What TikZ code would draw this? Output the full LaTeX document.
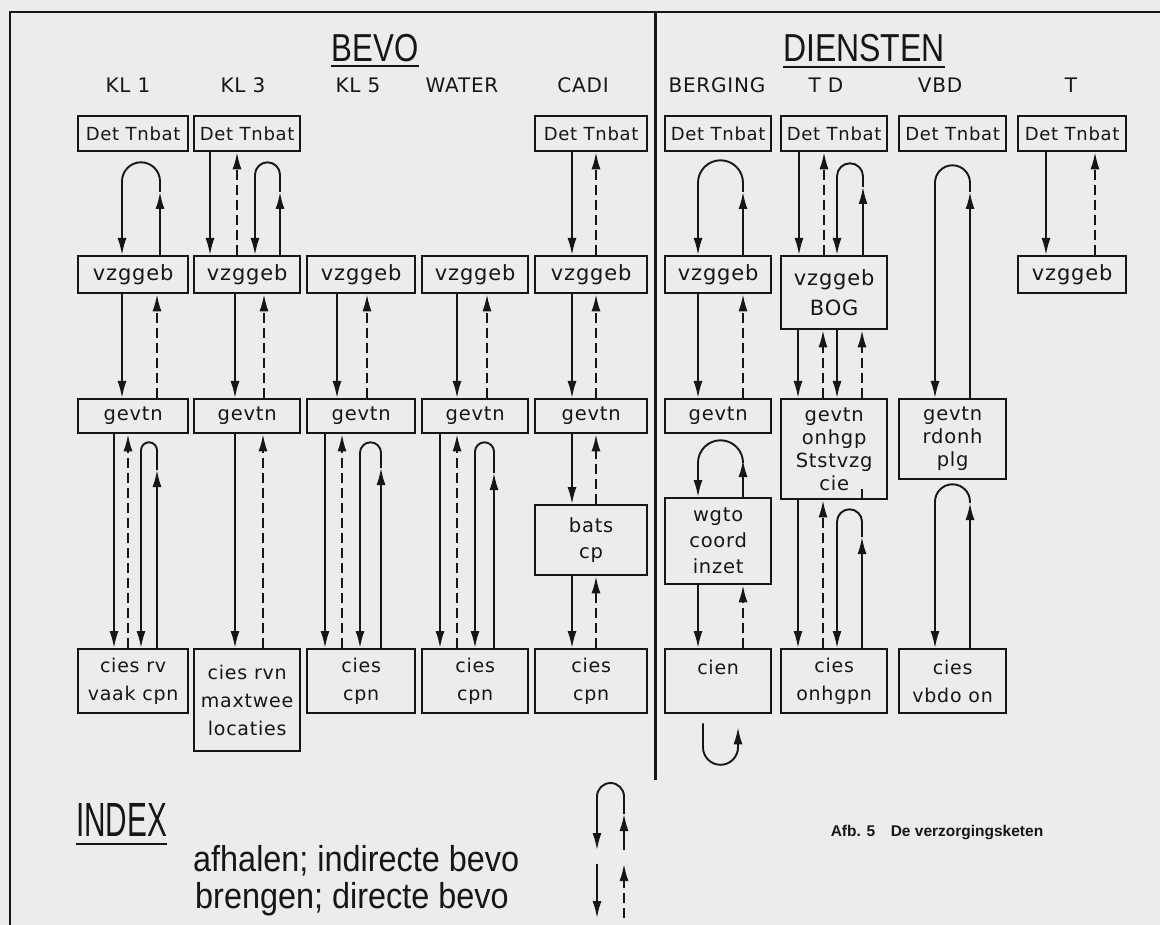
\documentclass[tikz,border=0pt]{standalone}
\usepackage{fontspec}
\usepackage{graphicx}
\setmainfont{DejaVu Sans}
\newfontfamily\sten[LetterSpace=4]{DejaVu Sans}
\newfontfamily\thinf{Liberation Sans}
\usetikzlibrary{arrows.meta,calc}
\definecolor{paper}{RGB}{236,236,234}
\definecolor{ink}{RGB}{22,22,22}
\tikzset{
  box/.style={draw=ink, line width=2.3pt, anchor=north west, inner sep=0pt, align=center, text=ink},
  ar/.style={draw=ink, line width=1.9pt, -{Latex[length=17pt,width=9pt]}},
  pl/.style={draw=ink, line width=1.9pt},
  da/.style={ar, dash pattern=on 10pt off 5pt},
  fA/.style={font=\sten\fontsize{18}{20}\selectfont},
  fB/.style={font=\sten\fontsize{21}{24}\selectfont},
  fC/.style={font=\sten\fontsize{19.5}{23}\selectfont},
  fD/.style={font=\sten\fontsize{19.5}{26}\selectfont},
  fE/.style={font=\sten\fontsize{19}{28}\selectfont},
  lab/.style={font=\sten\fontsize{20}{22}\selectfont, text=ink, inner sep=0pt},
  ttl/.style={font=\thinf\fontsize{39}{39}\selectfont, text=ink, inner sep=0pt, anchor=base},
}
% straight down (solid) and up (dashed) connectors
\newcommand\conDn[3]{\draw[ar] ([xshift=#1pt]#2.south west) -- ([xshift=#1pt]#3.north west);}
\newcommand\conUp[3]{\draw[da] ([xshift=#1pt]#3.north west) -- ([xshift=#1pt]#2.south west);}
% arch: left offset, right offset, upper node, lower node, gap below upper node, arrow height above lower node
\newcommand\conArch[6]{%
  \coordinate (aR) at ([xshift=#2pt]#4.north west);
  \coordinate (aL) at ([xshift=#1pt]#4.north west);
  \coordinate (aT) at ([yshift=-#5pt]#3.south);
  \coordinate (aM) at ([yshift=#6pt]#4.north);
  \draw[ar] (aR) -- (aR |- aM);
  \draw[ar] (aR |- aM) -- ($(aR |- aT)+(0,{(#2-#1)/2})$) arc[start angle=0,end angle=-180,radius={(#2-#1)/2}] -- (aL);
}
\begin{document}
\begin{tikzpicture}[x=1pt,y=-1pt]
\fill[paper] (0,0) rectangle (1160,925);
\useasboundingbox (0,0) rectangle (1160,925);
% frame
\draw[ink, line width=2.6pt] (10,925) -- (10,12) -- (1160,12);
\draw[ink, line width=3pt] (655,12) -- (655,780);
% titles
\node[ttl] (bevo) at (375,62) {\scalebox{0.8}[1]{BEVO}};
\draw[ink, line width=2pt] ([yshift=-4pt]bevo.base west) -- ([yshift=-4pt]bevo.base east);
\node[ttl] (dien) at (864,62) {\scalebox{0.82}[1]{DIENSTEN}};
\draw[ink, line width=2pt] ([yshift=-5pt]dien.base west) -- ([yshift=-5pt]dien.base east);
% column labels
\node[lab] (l1) at (128,85) {KL 1};
\node[lab] (l3) at (243,85) {KL 3};
\node[lab] (l5) at (358,85) {KL 5};
\node[lab] (lW) at (462,85) {WATER};
\node[lab] (lC) at (583,85) {CADI};
\node[lab] (lB) at (717,85) {BERGING};
\node[lab] (lT) at (826,85) {T D};
\node[lab] (lV) at (940,85) {VBD};
\node[lab] (lX) at (1071,85) {T};
% row 1
\node[box,fA,minimum width=110pt,minimum height=35pt] (d1) at (77,115) {Det Tnbat};
\node[box,fA,minimum width=106pt,minimum height=35pt] (d3) at (193,115) {Det Tnbat};
\node[box,fA,minimum width=112pt,minimum height=35pt] (dC) at (534,115) {Det Tnbat};
\node[box,fA,minimum width=106pt,minimum height=35pt] (dB) at (664,115) {Det Tnbat};
\node[box,fA,minimum width=106pt,minimum height=35pt] (dT) at (780,115) {Det Tnbat};
\node[box,fA,minimum width=107pt,minimum height=35pt] (dV) at (898,115) {Det Tnbat};
\node[box,fA,minimum width=108pt,minimum height=35pt] (dX) at (1017,115) {Det Tnbat};
% row 2
\node[box,fB,minimum width=110pt,minimum height=37pt] (v1) at (77,255) {vzggeb};
\node[box,fB,minimum width=106pt,minimum height=37pt] (v3) at (193,255) {vzggeb};
\node[box,fB,minimum width=108pt,minimum height=37pt] (v5) at (306,255) {vzggeb};
\node[box,fB,minimum width=106pt,minimum height=37pt] (vW) at (421,255) {vzggeb};
\node[box,fB,minimum width=112pt,minimum height=37pt] (vC) at (534,255) {vzggeb};
\node[box,fB,minimum width=106pt,minimum height=37pt] (vB) at (664,255) {vzggeb};
\node[box,fB,minimum width=106pt,minimum height=73pt,font=\sten\fontsize{21}{30}\selectfont] (vT) at (780,255) {vzggeb\\BOG};
\node[box,fB,minimum width=108pt,minimum height=37pt] (vX) at (1017,255) {vzggeb};
% row 3
\node[box,fC,minimum width=110pt,minimum height=34pt] (g1) at (77,398) {gevtn};
\node[box,fC,minimum width=106pt,minimum height=34pt] (g3) at (193,398) {gevtn};
\node[box,fC,minimum width=108pt,minimum height=34pt] (g5) at (306,398) {gevtn};
\node[box,fC,minimum width=106pt,minimum height=34pt] (gW) at (421,398) {gevtn};
\node[box,fC,minimum width=112pt,minimum height=34pt] (gC) at (534,398) {gevtn};
\node[box,fC,minimum width=106pt,minimum height=34pt] (gB) at (664,398) {gevtn};
\node[box,fC,minimum width=106pt,minimum height=100pt] (gT) at (780,398) {gevtn\\onhgp\\Ststvzg\\cie};
\node[box,fC,minimum width=107pt,minimum height=80pt] (gV) at (898,398) {gevtn\\rdonh\\plg};
% intermediate boxes
\node[box,fD,minimum width=112pt,minimum height=70pt] (bC) at (534,504) {bats\\cp};
\node[box,fD,minimum width=106pt,minimum height=86pt] (wB) at (664,497) {wgto\\coord\\inzet};
% row 4
\node[box,fE,minimum width=110pt,minimum height=64pt] (c1) at (77,648) {cies rv\\vaak cpn};
\node[box,fE,minimum width=106pt,minimum height=102pt] (c3) at (193,648) {cies rvn\\maxtwee\\locaties};
\node[box,fE,minimum width=108pt,minimum height=64pt] (c5) at (306,648) {cies\\cpn};
\node[box,fE,minimum width=106pt,minimum height=64pt] (cW) at (421,648) {cies\\cpn};
\node[box,fE,minimum width=112pt,minimum height=64pt] (cC) at (534,648) {cies\\cpn};
\node[box,fE,minimum width=106pt,minimum height=64pt] (cB) at (664,648) {cien\\\phantom{c}};
\node[box,fE,minimum width=106pt,minimum height=64pt] (cT) at (780,648) {cies\\onhgpn};
\node[box,fE,minimum width=107pt,minimum height=64pt] (cV) at (898,648) {cies\\vbdo on};
% KL 1
\conArch{45}{83}{d1}{v1}{10}{63}
\conDn{45}{v1}{g1} \conUp{80}{v1}{g1}
\conDn{37}{g1}{c1} \conUp{51}{g1}{c1}
\conArch{64}{80}{g1}{c1}{8}{178}
% KL 3
\conDn{17}{d3}{v3} \conUp{44}{d3}{v3}
\conArch{62}{87}{d3}{v3}{10}{63}
\conDn{42}{v3}{g3} \conUp{71}{v3}{g3}
\conDn{42}{g3}{c3} \conUp{70}{g3}{c3}
% KL 5
\conDn{31}{v5}{g5} \conUp{61}{v5}{g5}
\conDn{19}{g5}{c5} \conUp{36}{g5}{c5}
\conArch{54}{75}{g5}{c5}{8}{180}
% WATER
\conDn{36}{vW}{gW} \conUp{66}{vW}{gW}
\conDn{19}{gW}{cW} \conUp{36}{gW}{cW}
\conArch{54}{73}{gW}{cW}{8}{175}
% CADI
\conDn{38}{dC}{vC} \conUp{62}{dC}{vC}
\conDn{38}{vC}{gC} \conUp{62}{vC}{gC}
\conDn{38}{gC}{bC} \conUp{62}{gC}{bC}
\conDn{38}{bC}{cC} \conUp{62}{bC}{cC}
% BERGING
\conArch{34}{79}{dB}{vB}{8}{63}
\conDn{34}{vB}{gB} \conUp{79}{vB}{gB}
\conArch{34}{79}{gB}{wB}{6}{37}
\conDn{34}{wB}{cB} \conUp{79}{wB}{cB}
\coordinate (uS) at ([xshift=39pt,yshift=-9pt]cB.south west);
\draw[ar] (uS) -- ++(0,24) arc[start angle=180,end angle=0,radius=17.5] -- ++(0,-20);
% T D
\conDn{19}{dT}{vT} \conUp{44}{dT}{vT}
\conArch{57}{83}{dT}{vT}{11}{68}
\conDn{18}{vT}{gT} \conUp{43}{vT}{gT}
\conDn{57}{vT}{gT} \conUp{82}{vT}{gT}
\conDn{18}{gT}{cT} \conUp{43}{gT}{cT}
\conArch{57}{82}{gT}{cT}{9}{111}
\draw[pl] ([xshift=82pt,yshift=11pt]gT.south west) -- ([xshift=82pt]gT.south west);
% VBD
\conArch{37}{72}{dV}{gV}{13}{206}
\conArch{37}{72}{gV}{cV}{4}{145}
% T
\conDn{29}{dX}{vX} \conUp{78}{dX}{vX}
% index
\node[font=\thinf\fontsize{48}{48}\selectfont, text=ink, inner sep=0pt, anchor=base west] (idx) at (76,836) {\scalebox{0.62}[1]{INDEX}};
\draw[ink, line width=2pt] ([yshift=-8pt]idx.base west) -- ([yshift=-8pt]idx.base east);
\node[font=\thinf\fontsize{36}{36}\selectfont, text=ink, inner sep=0pt, anchor=base west] (ih) at (193,871) {\scalebox{0.9}[1]{afhalen; indirecte bevo}};
\node[font=\thinf\fontsize{36}{36}\selectfont, text=ink, inner sep=0pt, anchor=base west] (ib) at (195,908) {\scalebox{0.9}[1]{brengen; directe bevo}};
\coordinate (kL) at (597,850);
\coordinate (kR) at (624,850);
\coordinate (kM) at (624,814);
\coordinate (kT) at (624,796.5);
\draw[ar] (kR) -- (kM);
\draw[ar] (kM) -- (kT) arc[start angle=0,end angle=-180,radius=13.5] -- (kL);
\coordinate (kA) at (597,864);
\coordinate (kB) at (597,918);
\coordinate (kC) at (624,918);
\coordinate (kD) at (624,864);
\draw[ar] (kA) -- (kB);
\draw[da] (kC) -- (kD);
% caption
\node[font=\fontspec{Liberation Sans Bold}\fontsize{15.5}{17}\selectfont, text=ink, inner sep=0pt] (cap) at (937,833) {Afb. 5\quad De verzorgingsketen};
\end{tikzpicture}
\end{document}
